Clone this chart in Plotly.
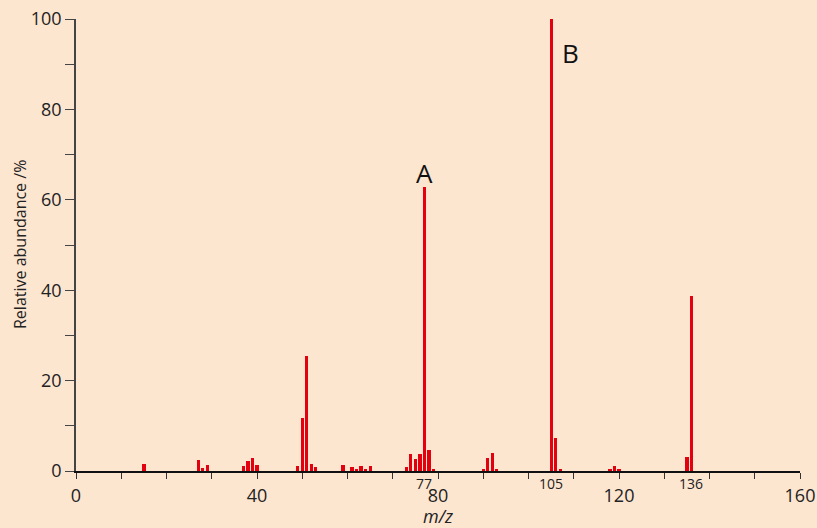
import plotly.graph_objects as go

# m/z values and relative abundances (%)
mz = [15, 27, 28, 29, 37, 38, 39, 40, 49, 50, 51, 52, 53, 59, 61, 62, 63, 64, 65,
      73, 74, 75, 76, 77, 78, 79, 90, 91, 92, 93, 105, 106, 107, 118, 119, 120, 135, 136]
abundance = [1.5, 2.4, 0.6, 1.3, 1.1, 2.2, 2.8, 1.25, 1.0, 11.7, 25.4, 1.5, 0.8, 1.3, 0.8, 0.45, 1.2, 0.5, 1.0,
             0.95, 3.75, 2.6, 3.75, 62.8, 4.6, 0.5, 0.45, 2.9, 4.05, 0.5, 100, 7.2, 0.45, 0.45, 1.0, 0.45, 3.1, 38.7]

x_tick_vals = list(range(0, 161, 10))
x_tick_text = [str(v) if v % 40 == 0 else "" for v in x_tick_vals]
y_tick_vals = list(range(0, 101, 10))
y_tick_text = [str(v) if v % 20 == 0 else "" for v in y_tick_vals]
special_labels = [77, 105, 136]
peak_labels = [("A", 77, 66), ("B", 109.2, 92.5)]

BG = "#fde6d0"
RED = "#e3000f"
FONT = "Open Sans"

fig = go.Figure()
fig.add_trace(go.Bar(x=mz, y=abundance, width=0.72, marker=dict(color=RED, line=dict(width=0)),
                     hoverinfo="x+y"))

annotations = []
for v in special_labels:
    annotations.append(dict(x=v, y=0, xref="x", yref="y", text=str(v), showarrow=False,
                            yanchor="top", yshift=-1, font=dict(size=14, color="#222", family=FONT)))
for t, xv, yv in peak_labels:
    annotations.append(dict(x=xv, y=yv, xref="x", yref="y", text=t, showarrow=False,
                            font=dict(size=26, color="#111", family=FONT)))
annotations.append(dict(x=0.5, y=0, xref="paper", yref="paper", text="<i>m/z</i>", showarrow=False,
                        yanchor="middle", yshift=-45, font=dict(size=18, color="#222", family=FONT)))
annotations.append(dict(x=0, y=0.5, xref="paper", yref="paper", text="Relative abundance /%",
                        showarrow=False, textangle=-90, xanchor="center", xshift=-56,
                        font=dict(size=16, color="#222", family=FONT)))

fig.update_layout(
    width=817, height=528,
    margin=dict(l=76, r=17, t=19, b=57, autoexpand=False),
    paper_bgcolor=BG, plot_bgcolor=BG,
    showlegend=False,
    bargap=0,
    font=dict(family=FONT, color="#222"),
    annotations=annotations,
    xaxis=dict(range=[0, 160], tickvals=x_tick_vals, ticktext=x_tick_text, automargin=False,
               ticks="outside", ticklen=6, tickwidth=1.3, tickcolor="#333",
               showline=True, linecolor="#111", linewidth=1.5, showgrid=False, zeroline=False,
               tickfont=dict(size=18, color="#222", family=FONT), ticklabelstandoff=2),
    yaxis=dict(range=[0, 100], tickvals=y_tick_vals, ticktext=y_tick_text, automargin=False,
               ticks="outside", ticklen=9, tickwidth=1.3, tickcolor="#444",
               showline=True, linecolor="#444", linewidth=1.5, showgrid=False, zeroline=False,
               tickfont=dict(size=18, color="#222", family=FONT)),
)

fig.write_html("out.html", config={"displayModeBar": False},
               post_script="document.body.style.margin='0px';document.body.style.overflow='hidden';")
